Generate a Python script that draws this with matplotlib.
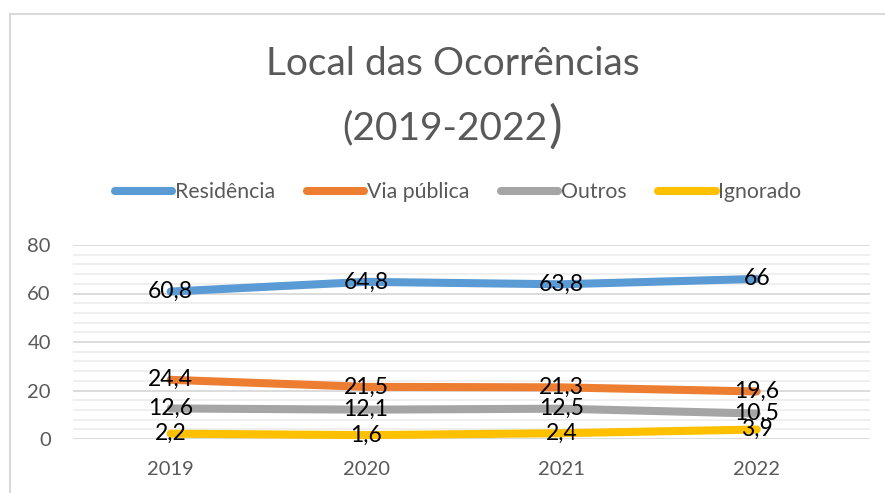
import matplotlib
matplotlib.use("Agg")
import matplotlib.pyplot as plt
from matplotlib.lines import Line2D
from matplotlib.ticker import MultipleLocator

plt.rcParams["font.family"] = ["Lato", "DejaVu Sans"]

years = ["2019", "2020", "2021", "2022"]
residencia = [60.8, 64.8, 63.8, 66]
via_publica = [24.4, 21.5, 21.3, 19.6]
outros = [12.6, 12.1, 12.5, 10.5]
ignorado = [2.2, 1.6, 2.4, 3.9]

series = [
    ("Residência", residencia, "#5B9BD5"),
    ("Via pública", via_publica, "#ED7D31"),
    ("Outros", outros, "#A5A5A5"),
    ("Ignorado", ignorado, "#FFC000"),
]

W, H = 885, 493
fig = plt.figure(figsize=(W / 100, H / 100), dpi=100)
ax = fig.add_axes([73 / W, (H - 439) / H, (870 - 73) / W, (439 - 245) / H])

x = list(range(len(years)))
for name, vals, col in series:
    ax.plot(x, vals, color=col, lw=5.8, solid_capstyle="round", label=name)
    for xi, v in zip(x, vals):
        txt = f"{v:g}".replace(".", ",")
        ax.text(xi, v, txt, ha="center", va="center", fontsize=16.5, color="black")

ax.set_xlim(-0.5, 3.58)
ax.set_ylim(0, 80)
ax.yaxis.set_major_locator(MultipleLocator(20))
ax.yaxis.set_minor_locator(MultipleLocator(4))
ax.grid(which="major", axis="y", color="#d9d9d9", lw=1.3)
ax.grid(which="minor", axis="y", color="#eeeeee", lw=1.3)
ax.set_axisbelow(True)
ax.set_xticks(x)
ax.set_xticklabels(years)
ax.tick_params(axis="both", which="both", length=0, colors="#595959", labelsize=14.5)
ax.tick_params(axis="x", pad=16)
ax.tick_params(axis="y", pad=16)
for s in ax.spines.values():
    s.set_visible(False)

leg = ax.legend(loc="center", ncol=4, frameon=False, fontsize=15.3,
                handlelength=2.7, handletextpad=0.12, columnspacing=1.5,
                labelcolor="#595959")
leg.set_bbox_to_anchor((458 / W, (H - 192) / H), transform=fig.transFigure)

fig.text(453 / W, 1 - 64 / H, "Local das Ocorrências", ha="center", va="center",
         fontsize=28, color="#595959")
fig.text(548 / W, 1 - 128 / H, "(2019-2022", ha="right", va="center",
         fontsize=28, color="#595959")
fig.text(548 / W, 1 - 127 / H, ")", ha="left", va="center",
         fontsize=37, color="#595959")

# chart border (light gray frame)
fig.add_artist(Line2D([10 / W, 10 / W], [0, 1 - 14 / H], transform=fig.transFigure,
                      color="#d9d9d9", lw=1.5))
fig.add_artist(Line2D([10 / W, 1], [1 - 14 / H, 1 - 14 / H], transform=fig.transFigure,
                      color="#d9d9d9", lw=1.5))

fig.savefig("out.png", dpi=100)
